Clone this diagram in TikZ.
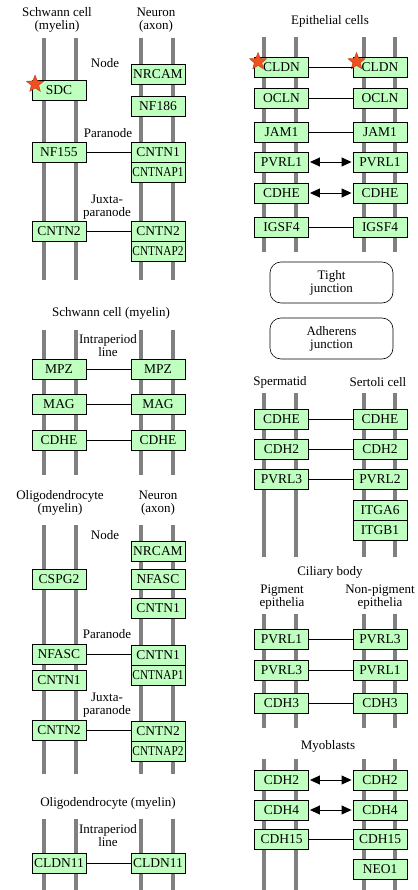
\documentclass[tikz,border=0pt]{standalone}
\usepackage{fontspec}
\setmainfont{Liberation Serif}
\usepackage{graphicx}
\usepackage{tikz}
\usetikzlibrary{arrows.meta,shapes.geometric,calc}
\definecolor{genefill}{RGB}{191,255,191}
\definecolor{membrane}{RGB}{128,128,128}
\definecolor{marker}{RGB}{240,80,30}
\newcommand{\narrow}[1]{\scalebox{0.84}[1]{#1}}

\begin{document}
\begin{tikzpicture}[x=1pt, y=-1pt,
  gene/.style={draw, line width=0.9pt, fill=genefill, minimum width=54pt,
    minimum height=20pt, inner sep=0pt, font=\fontsize{13.5}{13.5}\selectfont},
  lbl/.style={align=center, inner sep=0pt, font=\fontsize{13}{13}\selectfont},
  jbox/.style={lbl, draw, line width=0.6pt, rounded corners=11pt,
    minimum width=123pt, minimum height=41pt},
  bar/.style={draw=membrane, line width=4pt},
  hit/.style={star, star points=5, star point ratio=2.3, minimum size=18pt,
    inner sep=0pt, fill=marker, draw=marker!75!black, line width=0.4pt},
  bind/.style={line width=0.9pt},
  both/.style={bind, {Triangle[length=10pt,width=9pt]}-{Triangle[length=10pt,width=9pt]},
    shorten <=1pt, shorten >=1pt}
]
\useasboundingbox (0,0) rectangle (417,890);

% membranes
\draw[bar] (44,38) -- (44,280) (76,38) -- (76,280) (141,38) -- (141,280) (173,38) -- (173,280);
\draw[bar] (44,330) -- (44,475) (76,330) -- (76,475) (141,330) -- (141,475) (173,330) -- (173,475);
\draw[bar] (44,525) -- (44,774) (76,525) -- (76,774) (141,525) -- (141,774) (173,525) -- (173,774);
\draw[bar] (44,819) -- (44,890) (76,819) -- (76,890) (141,819) -- (141,890) (173,819) -- (173,890);
\draw[bar] (264,37) -- (264,252) (296,37) -- (296,252) (364,37) -- (364,252) (395,37) -- (395,252);
\draw[bar] (264,393) -- (264,557) (296,393) -- (296,557) (364,393) -- (364,557) (395,393) -- (395,557);
\draw[bar] (264,614) -- (264,728) (296,614) -- (296,728) (364,614) -- (364,728) (395,614) -- (395,728);
\draw[bar] (264,759) -- (264,890) (296,759) -- (296,890) (364,759) -- (364,890) (395,759) -- (395,890);

% Schwann cell / neuron
\node[lbl] (schwannA) at (57,20) {Schwann cell\\(myelin)};
\node[lbl] (neuronA) at (156,20) {Neuron\\(axon)};
\node[lbl] (nodeA) at (105,63) {Node};
\node[lbl] (paraA) at (108,133) {Paranode};
\node[lbl] (juxtaA) at (107,207) {Juxta-\\paranode};
\node[gene] (sdc) at (59,90) {SDC};
\node[gene] (nrcamA) at (158,74.5) {NRCAM};
\node[gene] (nf186) at (158,106) {NF186};
\node[gene] (nf155) at (59,152) {NF155};
\node[gene] (cntn1A) at (158,152) {CNTN1};
\node[gene] (cntnap1A) at (158,172) {\narrow{CNTNAP1}};
\node[gene] (cntn2A) at (59,231.5) {CNTN2};
\node[gene] (cntn2B) at (158,231.5) {CNTN2};
\node[gene] (cntnap2A) at (158,251.5) {\narrow{CNTNAP2}};
\node[hit] (hitSdc) at ($(sdc.north west)+(3.5,4.5)$) {};
\draw[bind] (nf155) -- (cntn1A);
\draw[bind] (cntn2A) -- (cntn2B);

% Schwann cell intraperiod line
\node[lbl] (schwannB) at (111,313) {Schwann cell (myelin)};
\node[lbl] (intraA) at (108,346) {Intraperiod\\line};
\node[gene] (mpzA) at (59,369) {MPZ};
\node[gene] (mpzB) at (158,369) {MPZ};
\node[gene] (magA) at (59,404) {MAG};
\node[gene] (magB) at (158,404) {MAG};
\node[gene] (cdheA) at (59,440) {CDHE};
\node[gene] (cdheB) at (158,440) {CDHE};
\draw[bind] (mpzA) -- (mpzB);
\draw[bind] (magA) -- (magB);
\draw[bind] (cdheA) -- (cdheB);

% Oligodendrocyte / neuron
\node[lbl] (oligoA) at (60,503) {Oligodendrocyte\\(myelin)};
\node[lbl] (neuronB) at (158,503) {Neuron\\(axon)};
\node[lbl] (nodeB) at (105,535) {Node};
\node[lbl] (paraB) at (107,634) {Paranode};
\node[lbl] (juxtaB) at (107,705) {Juxta-\\paranode};
\node[gene] (nrcamB) at (158,551) {NRCAM};
\node[gene] (cspg2) at (59,579) {CSPG2};
\node[gene] (nfascA) at (158,579) {NFASC};
\node[gene] (cntn1B) at (158,608.5) {CNTN1};
\node[gene] (nfascB) at (59,654) {NFASC};
\node[gene] (cntn1C) at (158,655) {CNTN1};
\node[gene] (cntnap1B) at (158,675) {\narrow{CNTNAP1}};
\node[gene] (cntn1D) at (59,680.5) {CNTN1};
\node[gene] (cntn2C) at (59,730) {CNTN2};
\node[gene] (cntn2D) at (158,731) {CNTN2};
\node[gene] (cntnap2B) at (158,751) {\narrow{CNTNAP2}};
\draw[bind] (nfascB.east) -- (nfascB.east -| cntn1C.west);
\draw[bind] (cntn2C.east) -- (cntn2C.east -| cntn2D.west);

% Oligodendrocyte intraperiod line
\node[lbl] (oligoB) at (108,803) {Oligodendrocyte (myelin)};
\node[lbl] (intraB) at (108,836) {Intraperiod\\line};
\node[gene] (cldn11A) at (59,863) {CLDN11};
\node[gene] (cldn11B) at (158,863) {CLDN11};
\draw[bind] (cldn11A) -- (cldn11B);

% Epithelial cells
\node[lbl] (epith) at (330,21) {Epithelial cells};
\node[gene] (cldnA) at (281.5,67) {CLDN};
\node[gene] (cldnB) at (380,67) {CLDN};
\node[gene] (oclnA) at (281.5,98) {OCLN};
\node[gene] (oclnB) at (380,98) {OCLN};
\node[gene] (jam1A) at (281.5,132) {JAM1};
\node[gene] (jam1B) at (380,132) {JAM1};
\node[gene] (pvrl1A) at (281.5,162) {PVRL1};
\node[gene] (pvrl1B) at (380,162) {PVRL1};
\node[gene] (cdheC) at (281.5,193) {CDHE};
\node[gene] (cdheD) at (380,193) {CDHE};
\node[gene] (igsf4A) at (281.5,227) {IGSF4};
\node[gene] (igsf4B) at (380,227) {IGSF4};
\node[hit] (hitCldnA) at ($(cldnA.north west)+(4,5)$) {};
\node[hit] (hitCldnB) at ($(cldnB.north west)+(4,5)$) {};
\draw[bind] (cldnA) -- (cldnB);
\draw[bind] (oclnA) -- (oclnB);
\draw[bind] (jam1A) -- (jam1B);
\draw[both] (pvrl1A) -- (pvrl1B);
\draw[both] (cdheC) -- (cdheD);
\draw[bind] (igsf4A) -- (igsf4B);
\node[jbox] (tight) at (331.5,282.5) {Tight\\junction};
\node[jbox] (adherens) at (331.5,338.5) {Adherens\\junction};

% Spermatid / Sertoli cell
\node[lbl] (sperm) at (280,382) {Spermatid};
\node[lbl] (sertoli) at (378,382) {Sertoli cell};
\node[gene] (cdheE) at (281.5,419) {CDHE};
\node[gene] (cdheF) at (380,419) {CDHE};
\node[gene] (cdh2A) at (281.5,449.5) {CDH2};
\node[gene] (cdh2B) at (380,449.5) {CDH2};
\node[gene] (pvrl3A) at (281.5,479) {PVRL3};
\node[gene] (pvrl2) at (380,479) {PVRL2};
\node[gene] (itga6) at (380,510) {ITGA6};
\node[gene] (itgb1) at (380,530) {ITGB1};
\draw[bind] (cdheE) -- (cdheF);
\draw[bind] (cdh2A) -- (cdh2B);
\draw[bind] (pvrl3A) -- (pvrl2);

% Ciliary body
\node[lbl] (ciliary) at (330,572) {Ciliary body};
\node[lbl] (pigment) at (282,597) {Pigment\\epithelia};
\node[lbl] (nonpig) at (380,597) {Non-pigment\\epithelia};
\node[gene] (pvrl1C) at (281.5,639) {PVRL1};
\node[gene] (pvrl3B) at (380,639) {PVRL3};
\node[gene] (pvrl3C) at (281.5,670) {PVRL3};
\node[gene] (pvrl1D) at (380,670) {PVRL1};
\node[gene] (cdh3A) at (281.5,703.5) {CDH3};
\node[gene] (cdh3B) at (380,703.5) {CDH3};
\draw[bind] (pvrl1C) -- (pvrl3B);
\draw[bind] (pvrl3C) -- (pvrl1D);
\draw[bind] (cdh3A) -- (cdh3B);

% Myoblasts
\node[lbl] (myo) at (328,746) {Myoblasts};
\node[gene] (cdh2C) at (281.5,780) {CDH2};
\node[gene] (cdh2D) at (380,780) {CDH2};
\node[gene] (cdh4A) at (281.5,810) {CDH4};
\node[gene] (cdh4B) at (380,810) {CDH4};
\node[gene] (cdh15A) at (281.5,839.5) {CDH15};
\node[gene] (cdh15B) at (380,839.5) {CDH15};
\node[gene] (neo1) at (380,869) {NEO1};
\draw[both] (cdh2C) -- (cdh2D);
\draw[both] (cdh4A) -- (cdh4B);
\draw[bind] (cdh15A) -- (cdh15B);
\end{tikzpicture}
\end{document}
